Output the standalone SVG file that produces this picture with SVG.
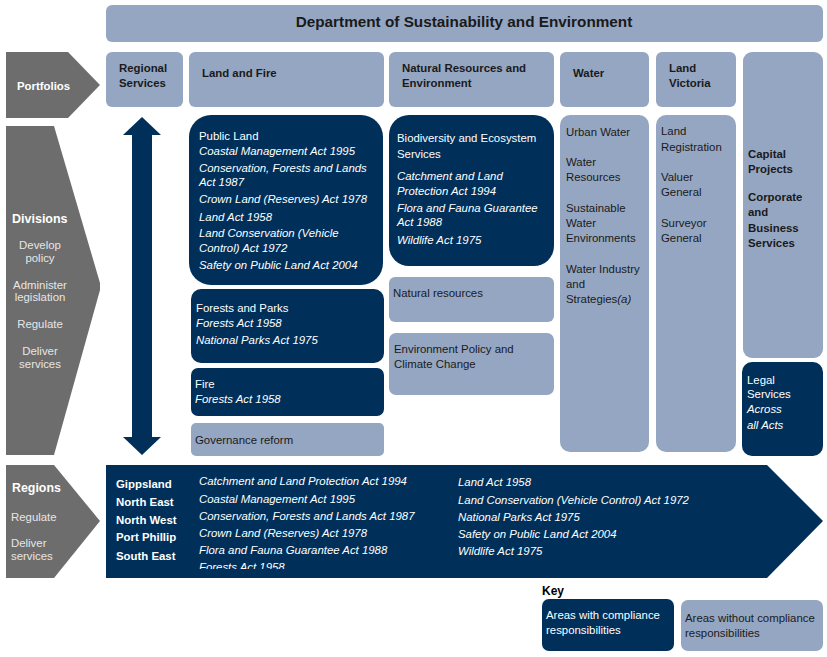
<svg xmlns="http://www.w3.org/2000/svg" width="827" height="657" viewBox="0 0 827 657">
<style>
text{font-family:"Liberation Sans",Arial,sans-serif;font-size:11.4px}
.lt{fill:#95a6c2}
.dk{fill:#00305a}
.gr{fill:#6d6d6d}
.b{font-weight:bold}
.i{font-style:italic}
.tk{fill:#1a1a1a}
.tw{fill:#ffffff}
.ts{fill:#e6e6e6}
.c{text-anchor:middle}
</style>
<defs>
<clipPath id="regclip"><rect x="106" y="465" width="720" height="104"/></clipPath>
</defs>
<rect width="827" height="657" fill="#ffffff"/>

<g id="title">
<rect class="lt" x="106" y="5" width="717" height="37" rx="6"/>
<text class="b tk c" x="464" y="27" style="font-size:15.3px">Department of Sustainability and Environment</text>
</g>

<g id="portfolios">
<polygon class="gr" points="6,52 68,52 100,85 68,118 6,118"/>
<text class="b tw" x="17" y="90">Portfolios</text>
</g>

<g id="divisions">
<polygon class="gr" points="6,126 54,126 100,283 100,290 54,455 6,455"/>
<text class="b tw" x="12" y="223" style="font-size:12.5px">Divisions</text>
<text class="ts c" x="40" y="249">Develop</text>
<text class="ts c" x="40" y="262">policy</text>
<text class="ts c" x="40" y="289">Administer</text>
<text class="ts c" x="40" y="301">legislation</text>
<text class="ts c" x="40" y="328">Regulate</text>
<text class="ts c" x="40" y="355">Deliver</text>
<text class="ts c" x="40" y="368">services</text>
</g>

<g id="regions-label">
<polygon class="gr" points="6,465 54,465 100,521 54,578 6,578"/>
<text class="b tw" x="12" y="492" style="font-size:12.4px">Regions</text>
<text class="ts" x="11" y="521">Regulate</text>
<text class="ts" x="11" y="547">Deliver</text>
<text class="ts" x="11" y="560">services</text>
</g>

<g id="regional-services">
<rect class="lt" x="106" y="52" width="77" height="55" rx="6"/>
<text class="b tk" x="119" y="72">Regional</text>
<text class="b tk" x="119" y="87">Services</text>
</g>

<g id="land-and-fire">
<rect class="lt" x="189" y="52" width="195" height="55" rx="6"/>
<text class="b tk" x="202" y="77">Land and Fire</text>
</g>

<g id="nre">
<rect class="lt" x="389" y="52" width="165" height="55" rx="6"/>
<text class="b tk" x="402" y="72">Natural Resources and</text>
<text class="b tk" x="402" y="87">Environment</text>
</g>

<g id="water">
<rect class="lt" x="560" y="52" width="89" height="55" rx="6"/>
<text class="b tk" x="573" y="77">Water</text>
</g>

<g id="land-victoria">
<rect class="lt" x="656" y="52" width="80" height="55" rx="6"/>
<text class="b tk" x="669" y="72">Land</text>
<text class="b tk" x="669" y="87">Victoria</text>
</g>

<g id="capital-corporate">
<rect class="lt" x="743" y="52" width="80" height="306" rx="9"/>
<text class="b tk" x="748" y="158">Capital</text>
<text class="b tk" x="748" y="173">Projects</text>
<text class="b tk" x="748" y="201">Corporate</text>
<text class="b tk" x="748" y="216">and</text>
<text class="b tk" x="748" y="232">Business</text>
<text class="b tk" x="748" y="247">Services</text>
</g>

<g id="legal-services">
<rect class="dk" x="742" y="362" width="81" height="94" rx="10"/>
<text class="tw" x="747" y="384">Legal</text>
<text class="tw" x="747" y="398">Services</text>
<text class="tw i" x="747" y="413">Across</text>
<text class="tw i" x="747" y="429">all Acts</text>
</g>

<g id="public-land">
<rect class="dk" x="189" y="115" width="194" height="170" rx="22"/>
<text class="tw" x="199" y="140">Public Land</text>
<text class="tw i" x="199" y="155">Coastal Management Act 1995</text>
<text class="tw i" x="199" y="172">Conservation, Forests and Lands</text>
<text class="tw i" x="199" y="186">Act 1987</text>
<text class="tw i" x="199" y="203">Crown Land (Reserves) Act 1978</text>
<text class="tw i" x="199" y="221">Land Act 1958</text>
<text class="tw i" x="199" y="237">Land Conservation (Vehicle</text>
<text class="tw i" x="199" y="252">Control) Act 1972</text>
<text class="tw i" x="199" y="269">Safety on Public Land Act 2004</text>
</g>

<g id="forests-and-parks">
<rect class="dk" x="191" y="289" width="193" height="74" rx="10"/>
<text class="tw" x="196" y="312">Forests and Parks</text>
<text class="tw i" x="196" y="327">Forests Act 1958</text>
<text class="tw i" x="196" y="344">National Parks Act 1975</text>
</g>

<g id="fire">
<rect class="dk" x="191" y="368" width="193" height="48" rx="7"/>
<text class="tw" x="195" y="388">Fire</text>
<text class="tw i" x="195" y="403">Forests Act 1958</text>
</g>

<g id="governance-reform">
<rect class="lt" x="191" y="423" width="193" height="33" rx="5"/>
<text class="tk" x="195" y="444">Governance reform</text>
</g>

<g id="biodiversity">
<rect class="dk" x="389" y="115" width="165" height="151" rx="20"/>
<text class="tw" x="397" y="142">Biodiversity and Ecosystem</text>
<text class="tw" x="397" y="158">Services</text>
<text class="tw i" x="397" y="180">Catchment and Land</text>
<text class="tw i" x="397" y="195">Protection Act 1994</text>
<text class="tw i" x="397" y="212">Flora and Fauna Guarantee</text>
<text class="tw i" x="397" y="226">Act 1988</text>
<text class="tw i" x="397" y="244">Wildlife Act 1975</text>
</g>

<g id="natural-resources">
<rect class="lt" x="389" y="277" width="165" height="45" rx="6"/>
<text class="tk" x="393" y="297">Natural resources</text>
</g>

<g id="environment-policy">
<rect class="lt" x="389" y="333" width="165" height="62" rx="7"/>
<text class="tk" x="394" y="353">Environment Policy and</text>
<text class="tk" x="394" y="368">Climate Change</text>
</g>

<g id="water-divisions">
<rect class="lt" x="560" y="115" width="89" height="337" rx="10"/>
<text class="tk" x="566" y="136">Urban Water</text>
<text class="tk" x="566" y="166">Water</text>
<text class="tk" x="566" y="181">Resources</text>
<text class="tk" x="566" y="212">Sustainable</text>
<text class="tk" x="566" y="227">Water</text>
<text class="tk" x="566" y="242">Environments</text>
<text class="tk" x="566" y="273">Water Industry</text>
<text class="tk" x="566" y="288">and</text>
<text class="tk" x="566" y="303">Strategies<tspan class="i">(a)</tspan></text>
</g>

<g id="land-victoria-divisions">
<rect class="lt" x="656" y="115" width="80" height="337" rx="10"/>
<text class="tk" x="661" y="135">Land</text>
<text class="tk" x="661" y="151">Registration</text>
<text class="tk" x="661" y="181">Valuer</text>
<text class="tk" x="661" y="196">General</text>
<text class="tk" x="661" y="227">Surveyor</text>
<text class="tk" x="661" y="242">General</text>
</g>

<g id="regions">
<polygon class="dk" points="106,465 767,465 823,521 767,578 106,578"/>
<text class="b tw" x="116" y="488">Gippsland</text>
<text class="b tw" x="116" y="506">North East</text>
<text class="b tw" x="116" y="524">North West</text>
<text class="b tw" x="116" y="541">Port Phillip</text>
<text class="b tw" x="116" y="560">South East</text>
<g clip-path="url(#regclip)">
<text class="tw i" x="199" y="485">Catchment and Land Protection Act 1994</text>
<text class="tw i" x="199" y="503">Coastal Management Act 1995</text>
<text class="tw i" x="199" y="520">Conservation, Forests and Lands Act 1987</text>
<text class="tw i" x="199" y="537">Crown Land (Reserves) Act 1978</text>
<text class="tw i" x="199" y="554">Flora and Fauna Guarantee Act 1988</text>
<text class="tw i" x="199" y="571">Forests Act 1958</text>
</g>
<text class="tw i" x="458" y="486">Land Act 1958</text>
<text class="tw i" x="458" y="504">Land Conservation (Vehicle Control) Act 1972</text>
<text class="tw i" x="458" y="521">National Parks Act 1975</text>
<text class="tw i" x="458" y="538">Safety on Public Land Act 2004</text>
<text class="tw i" x="458" y="555">Wildlife Act 1975</text>
</g>

<g id="connectors">
<polygon class="dk" points="142,117 161,135 152,135 152,437 161,437 142,455 123,437 132,437 132,135 123,135"/>
</g>

<g id="key">
<text class="b" x="542" y="595" style="font-size:12px;fill:#000">Key</text>
<rect class="dk" x="542" y="599" width="132" height="52" rx="7"/>
<text class="tw" x="546" y="619">Areas with compliance</text>
<text class="tw" x="546" y="634">responsibilities</text>
<rect class="lt" x="681" y="600" width="142" height="51" rx="7"/>
<text class="tk" x="685" y="622">Areas without compliance</text>
<text class="tk" x="685" y="637">responsibilities</text>
</g>
</svg>
